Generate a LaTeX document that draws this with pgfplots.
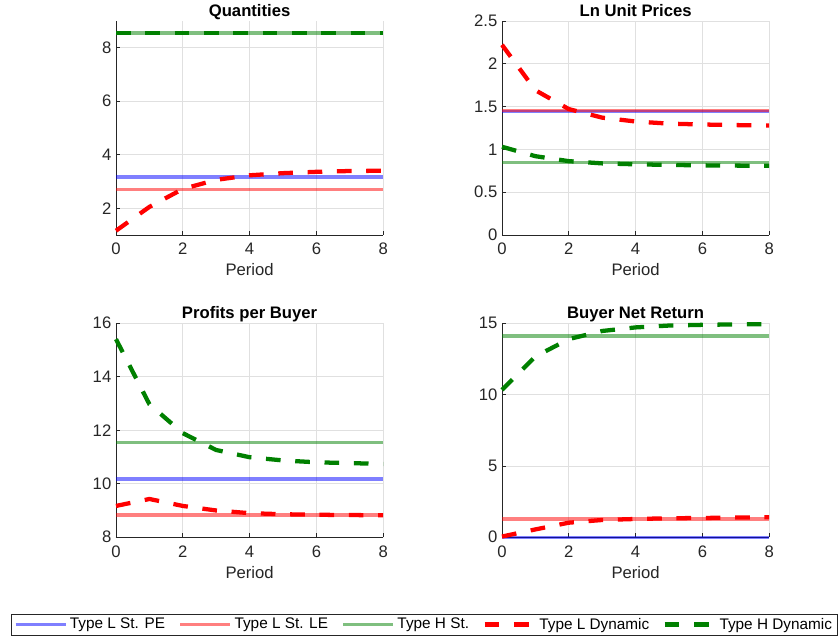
\documentclass[border=0pt]{standalone}
\usepackage{pgfplots}
\pgfplotsset{compat=1.18}
\usepackage{fontspec}
\setmainfont{Liberation Sans}
\definecolor{mblue}{rgb}{0,0,1}
\definecolor{mred}{rgb}{1,0,0}
\definecolor{mgreen}{rgb}{0,0.5,0}
\definecolor{axgray}{rgb}{0.15,0.15,0.15}
\pgfplotsset{
 every axis title/.style={at={(0.5,1)}, anchor=base, yshift=3.4pt},
 mystyle/.style={
  scale only axis, width=200.4pt, height=160.6pt,
  xmin=0, xmax=8, xtick={0,2,4,6,8},
  axis x line*=bottom, axis y line*=left,
  axis line style={axgray, line width=0.5pt},
  grid=major, major grid style={black!12, line width=0.5pt},
  tick style={axgray, line width=0.5pt},
  major tick length=3pt, tick align=inside,
  ticklabel style={font=\fontsize{12.5}{14}\selectfont, text=axgray},
  xticklabel style={anchor=base, yshift=-15pt},
  xlabel={Period},
  xlabel style={font=\fontsize{12.5}{14}\selectfont, text=axgray, at={(0.5,0)}, anchor=base, yshift=-30.75pt},
  title style={font=\bfseries\fontsize{12.5}{14}\selectfont},
  /pgf/number format/assume math mode=true,
  legend image code/.code={\draw[##1,line cap=butt] (0pt,0pt) -- (37.5pt,0pt);},
  clip=false,
 },
 pe/.style={mblue, draw opacity=0.5, line width=2.6pt, line cap=butt},
 le/.style={mred, draw opacity=0.5, line width=2.6pt, line cap=butt},
 hst/.style={mgreen, draw opacity=0.5, line width=2.6pt, line cap=butt},
 ldyn/.style={mred, line width=3.2pt, dash pattern=on 11pt off 11pt, line cap=butt},
 hdyn/.style={mgreen, line width=3.2pt, dash pattern=on 11pt off 11pt, line cap=butt},
}
\begin{document}
\begin{tikzpicture}
\useasboundingbox (0,0) rectangle (630pt,480.75pt);
% Quantities
\begin{axis}[mystyle, at={(87pt,304.5pt)}, anchor=south west,
  ymin=1, ymax=9, ytick={2,4,6,8}, title={Quantities}]
\addplot[pe] coordinates {(0,3.16) (8,3.16)};
\addplot[le] coordinates {(0,2.69) (8,2.69)};
\addplot[hst] coordinates {(0,8.55) (8,8.55)};
\addplot[ldyn] coordinates {(0,1.16) (1,2.05) (2,2.72) (3,3.06) (4,3.23) (5,3.31) (6,3.36) (7,3.39) (8,3.40)};
\addplot[hdyn] coordinates {(0,8.55) (1,8.55) (2,8.55) (3,8.55) (4,8.55) (5,8.55) (6,8.55) (7,8.55) (8,8.55)};
\end{axis}
% Ln Unit Prices
\begin{axis}[mystyle, at={(376.5pt,304.5pt)}, anchor=south west,
  ymin=0, ymax=2.5, ytick={0,0.5,1,1.5,2,2.5}, title={Ln Unit Prices}]
\addplot[pe] coordinates {(0,1.44) (8,1.44)};
\addplot[le] coordinates {(0,1.455) (8,1.455)};
\addplot[hst] coordinates {(0,0.848) (8,0.848)};
\addplot[ldyn] coordinates {(0,2.22) (1,1.69) (2,1.47) (3,1.37) (4,1.325) (5,1.30) (6,1.29) (7,1.283) (8,1.278)};
\addplot[hdyn] coordinates {(0,1.03) (1,0.92) (2,0.862) (3,0.836) (4,0.825) (5,0.818) (6,0.813) (7,0.81) (8,0.808)};
\end{axis}
% Profits per Buyer
\begin{axis}[mystyle, at={(87pt,77.8pt)}, anchor=south west,
  ymin=8, ymax=16, ytick={8,10,12,14,16}, title={Profits per Buyer},
  legend columns=5,
  legend style={at={(1.1536,-0.4075)}, anchor=center, draw=axgray, line width=0.5pt,
    font=\fontsize{11.5}{13}\selectfont, inner xsep=2pt, inner ysep=1pt,
    /tikz/every even column/.append style={column sep=8pt}},
  legend cell align=left]
\addplot[pe] coordinates {(0,10.18) (8,10.18)};
\addplot[le] coordinates {(0,8.83) (8,8.83)};
\addplot[hst] coordinates {(0,11.55) (8,11.55)};
\addplot[ldyn] coordinates {(0,9.17) (1,9.43) (2,9.17) (3,9.0) (4,8.9) (5,8.86) (6,8.84) (7,8.83) (8,8.82)};
\addplot[hdyn] coordinates {(0,15.4) (1,12.97) (2,11.89) (3,11.26) (4,10.99) (5,10.87) (6,10.8) (7,10.77) (8,10.74)};
\legend{Type L St. PE, Type L St. LE, Type H St., Type L Dynamic, Type H Dynamic}
\end{axis}
% Buyer Net Return
\begin{axis}[mystyle, at={(376.5pt,77.8pt)}, anchor=south west,
  ymin=0, ymax=15, ytick={0,5,10,15}, title={Buyer Net Return}]
\addplot[pe] coordinates {(0,0) (8,0)};
\addplot[le] coordinates {(0,1.29) (8,1.29)};
\addplot[hst] coordinates {(0,14.11) (8,14.11)};
\addplot[ldyn] coordinates {(0,0.05) (1,0.55) (2,1.02) (3,1.21) (4,1.28) (5,1.33) (6,1.35) (7,1.38) (8,1.4)};
\addplot[hdyn] coordinates {(0,10.33) (1,12.66) (2,13.88) (3,14.45) (4,14.7) (5,14.83) (6,14.88) (7,14.91) (8,14.93)};
\end{axis}
\end{tikzpicture}
\end{document}
